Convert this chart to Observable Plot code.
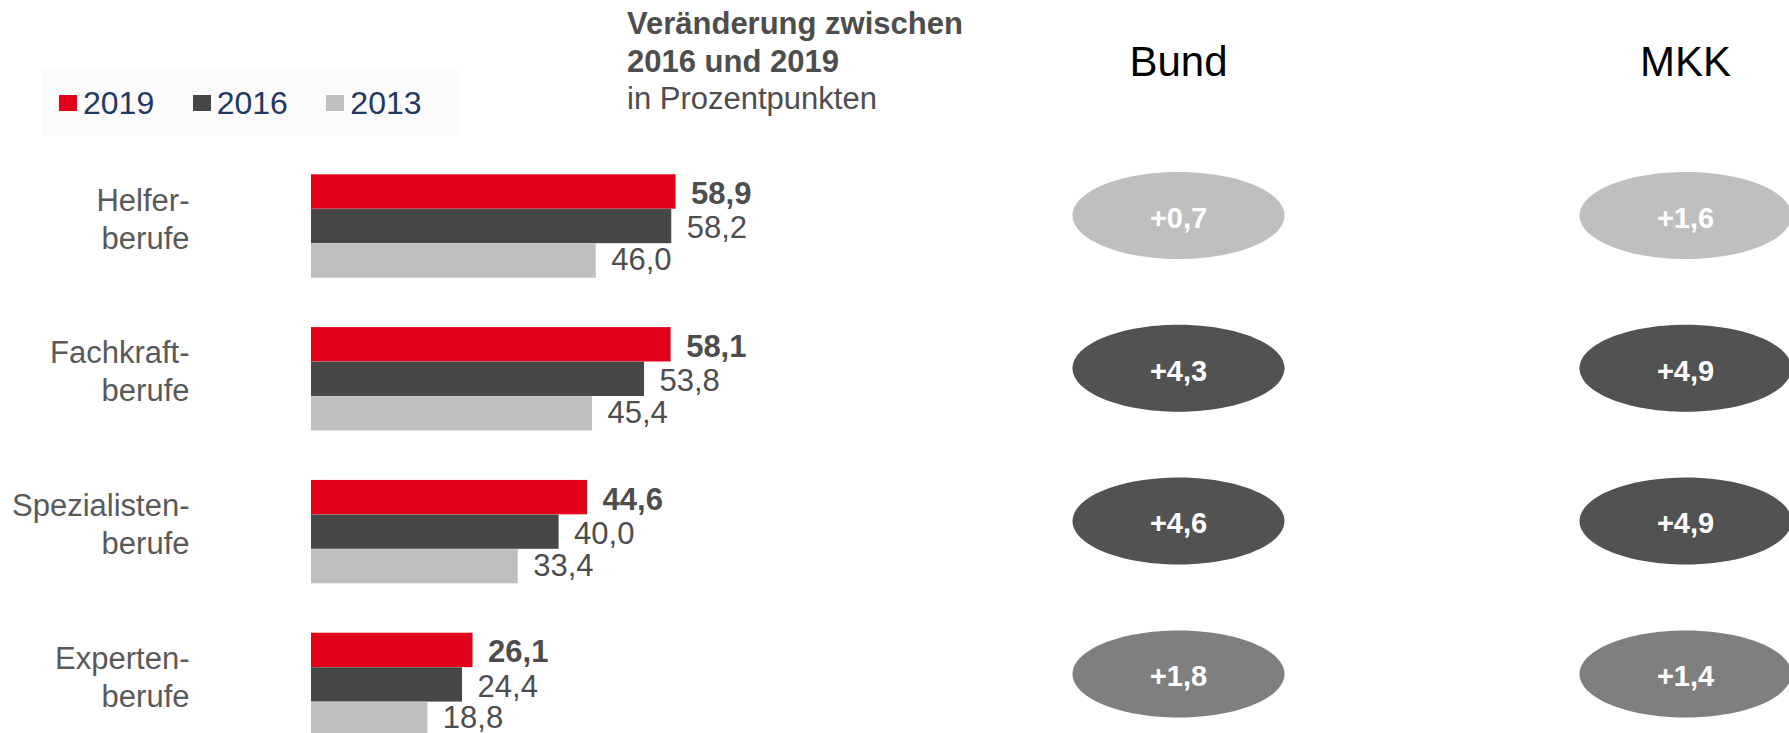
<!DOCTYPE html>
<html><head><meta charset="utf-8">
<script src="https://cdn.jsdelivr.net/npm/d3@7"></script>
<script src="https://cdn.jsdelivr.net/npm/@observablehq/plot@0.6"></script>
<style>
html,body{margin:0;padding:0;background:#fff;overflow:hidden;}
#wrap{position:relative;width:1789px;height:733px;font-family:"Liberation Sans",Arial,sans-serif;}
#legend{position:absolute;left:42px;top:70px;width:418px;height:65px;background:#fbfbfb;display:flex;align-items:center;padding-left:17px;box-sizing:border-box;}
.item{display:flex;align-items:center;width:138px;}
.sw{width:18px;height:16px;margin-right:6px;}
.lt{font-size:32px;line-height:1;color:#1f3864;}
#title{position:absolute;left:627px;top:5px;font-size:31px;line-height:37.5px;color:#4d4d4d;white-space:nowrap;}
#left{position:absolute;left:0;top:150px;}
#right{position:absolute;left:1000px;top:0;}
</style></head><body>
<div id="wrap">
  <div id="legend"></div>
  <div id="title"><b>Veränderung zwischen<br>2016 und 2019</b><br>in Prozentpunkten</div>
  <div id="left"></div>
  <div id="right"></div>
</div>
<script>
// ---- data ----
const categories = ["Helfer-\nberufe", "Fachkraft-\nberufe", "Spezialisten-\nberufe", "Experten-\nberufe"];
const years = ["2019", "2016", "2013"];
const share2019 = [58.9, 58.1, 44.6, 26.1];
const share2016 = [58.2, 53.8, 40.0, 24.4];
const share2013 = [46.0, 45.4, 33.4, 18.8];
const regions = ["Bund", "MKK"];
const changeBund = [0.7, 4.3, 4.6, 1.8];
const changeMKK = [1.6, 4.9, 4.9, 1.4];
const yearColors = ["#e2001a", "#474747", "#bfbfbf"];
const rowColors = ["#bfbfbf", "#525252", "#525252", "#7f7f7f"];

// ---- derived tables ----
const seriesByYear = [share2019, share2016, share2013];
const rows = categories.flatMap((c, i) => years.map((y, j) => ({category: c, year: y, value: seriesByYear[j][i]})));
const cells = categories.flatMap((c, i) => [
  {region: "Bund", category: c, change: changeBund[i]},
  {region: "MKK", category: c, change: changeMKK[i]}
]);

const de = d3.formatLocale({decimal: ",", thousands: ".", grouping: [3], currency: ["", "€"]});
const fmt = de.format(".1f");
const fmtPlus = de.format("+.1f");

const FONT = '"Liberation Sans", Arial, sans-serif';
const BAND_PAD = 0.3235;
const BAR_H = 103.5 / 3;

// ---- legend (HTML, above the chart) ----
const legend = document.getElementById("legend");
years.forEach((y, j) => {
  const item = document.createElement("div");
  item.className = "item";
  item.innerHTML = `<span class="sw" style="background:${yearColors[j]}"></span><span class="lt">${y}</span>`;
  legend.appendChild(item);
});

// ---- left: grouped horizontal bars ----
const labelDy = [2 - BAR_H, 2, BAR_H - 1];
const textMarks = years.map((y, j) => Plot.text(rows.filter(d => d.year === y), {
  x: "value", y: "category", text: d => fmt(d.value),
  textAnchor: "start", dx: 15, dy: labelDy[j],
  fontSize: 31, fontWeight: j === 0 ? "bold" : "normal", fill: "#4d4d4d"
}));
const barMarks = years.map((y, j) => Plot.barX(rows.filter(d => d.year === y), {
  x: "value", y: "category", fill: "year",
  insetTop: j * BAR_H, insetBottom: (2 - j) * BAR_H
}));

const left = Plot.plot({
  width: 1000, height: 590,
  marginLeft: 311, marginRight: 70, marginTop: 24.3, marginBottom: 3.9,
  style: {fontFamily: FONT, background: "transparent", overflow: "visible"},
  x: {domain: [0, 100], axis: null},
  y: {type: "band", domain: categories, paddingInner: BAND_PAD, paddingOuter: 0, round: false, axis: null},
  color: {domain: years, range: yearColors},
  marks: [
    ...barMarks,
    ...textMarks,
    Plot.text(categories, {
      y: d => d, text: d => d, frameAnchor: "left", textAnchor: "end",
      dx: -122, dy: -9, fontSize: 31, lineHeight: 1.226, fill: "#595959"
    })
  ]
});
document.getElementById("left").appendChild(left);

// ---- right: ellipses with changes ----
const K = 0.5522847498;
const ASPECT = 106 / 43.5;
const ellipse = {
  draw(ctx, size) {
    const ry = Math.sqrt(size / Math.PI), rx = ry * ASPECT;
    const kx = rx * K, ky = ry * K;
    ctx.moveTo(rx, 0);
    ctx.bezierCurveTo(rx, ky, kx, ry, 0, ry);
    ctx.bezierCurveTo(-kx, ry, -rx, ky, -rx, 0);
    ctx.bezierCurveTo(-rx, -ky, -kx, -ry, 0, -ry);
    ctx.bezierCurveTo(kx, -ry, rx, -ky, rx, 0);
    ctx.closePath();
  }
};

const right = Plot.plot({
  width: 789, height: 740,
  marginLeft: 178, marginRight: 104, marginTop: 174.3, marginBottom: 3.9,
  style: {fontFamily: FONT, background: "transparent", overflow: "visible"},
  x: {type: "point", domain: regions, padding: 0, axis: null},
  y: {type: "band", domain: categories, paddingInner: BAND_PAD, paddingOuter: 0, round: false, axis: null},
  color: {domain: categories, range: rowColors},
  marks: [
    Plot.dot(cells, {x: "region", y: "category", fill: "category", stroke: "none", r: 43.5, symbol: ellipse, dy: -11}),
    Plot.text(cells, {x: "region", y: "category", text: d => fmtPlus(d.change), fill: "white", fontWeight: "bold", fontSize: 29, dy: -8}),
    Plot.text(regions, {x: d => d, text: d => d, frameAnchor: "top", lineAnchor: "bottom", dy: -99.3, fontSize: 42, fill: "#000"})
  ]
});
document.getElementById("right").appendChild(right);
</script>
</body></html>
